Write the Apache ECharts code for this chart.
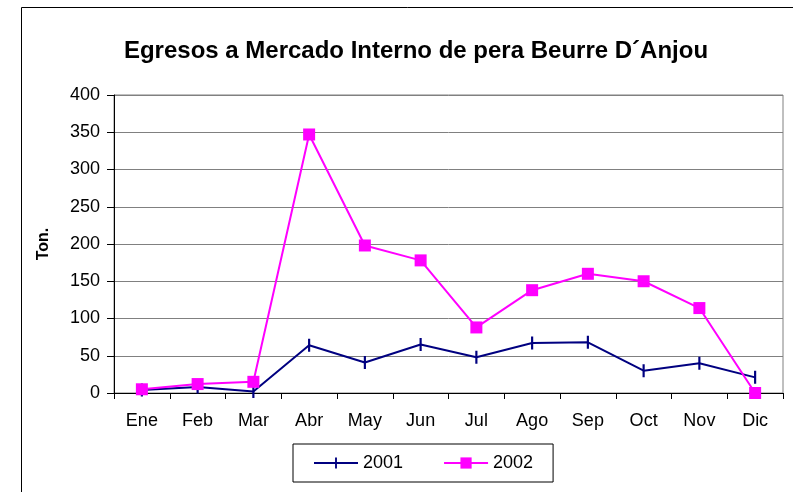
<!DOCTYPE html>
<html lang="es">
<head>
  <meta http-equiv="Content-Type" content="text/html; charset=UTF-8">
  <title>Egresos a Mercado Interno</title>
  <style>
    html, body { margin: 0; padding: 0; background: #fff; }
    #myChart { width: 793px; height: 492px; }
  </style>
</head>
<body>
  <div id="myChart"></div>
  <script src="https://cdn.jsdelivr.net/npm/echarts@6/dist/echarts.min.js"></script>
  <script>
    const months = ['Ene', 'Feb', 'Mar', 'Abr', 'May', 'Jun', 'Jul', 'Ago', 'Sep', 'Oct', 'Nov', 'Dic'];
    const data2001 = [4, 8, 2, 64, 41, 65, 48, 67, 68, 30, 40, 21];
    const data2002 = [5, 12, 15, 347, 198, 178, 88, 138, 160, 150, 114, 0];
    const yTicks = [0, 50, 100, 150, 200, 250, 300, 350, 400];

    const myChart = echarts.init(document.getElementById('myChart'));
    const font = 'Liberation Sans, Arial, sans-serif';
    // vertical dash marker, padded to a square box so the legend keeps its shape
    const dash = 'path://M0,0h0.01v0.01h-0.01z M5,0h2v12h-2z M11.99,11.99h0.01v0.01h-0.01z';
    const option = {
      backgroundColor: '#fff',
      animation: false,
      textStyle: { fontFamily: font, color: '#000' },
      graphic: [{
        type: 'rect',
        shape: { x: 21.5, y: 7.5, width: 800, height: 500 },
        style: { fill: 'none', stroke: '#000', lineWidth: 1 },
        silent: true
      }],
      title: {
        text: 'Egresos a Mercado Interno de pera Beurre D´Anjou',
        left: 411,
        top: 34,
        textAlign: 'center',
        textStyle: { fontFamily: font, fontSize: 24, fontWeight: 'bold', color: '#000' }
      },
      legend: {
        left: 293,
        top: 444,
        itemWidth: 44,
        itemHeight: 14,
        itemGap: 40,
        padding: [10, 20, 10, 20],
        borderColor: '#000',
        borderWidth: 1,
        textStyle: { fontFamily: font, fontSize: 18, color: '#000' },
        data: ['2001', '2002']
      },
      grid: {
        left: 114,
        right: 10,
        top: 95,
        bottom: 99,
        show: true,
        borderColor: '#808080',
        borderWidth: 1
      },
      xAxis: {
        type: 'category',
        data: months,
        boundaryGap: true,
        axisLine: { lineStyle: { color: '#000', width: 1 } },
        axisTick: { show: true, length: 6, lineStyle: { color: '#000' } },
        axisLabel: { margin: 19, fontSize: 18, color: '#000', fontFamily: font }
      },
      yAxis: {
        type: 'value',
        min: yTicks[0],
        max: yTicks[yTicks.length - 1],
        interval: 50,
        name: 'Ton.',
        nameLocation: 'middle',
        nameRotate: 90,
        nameGap: 62,
        nameTextStyle: { fontFamily: font, fontSize: 16, fontWeight: 'bold', color: '#000' },
        axisLine: { show: true, lineStyle: { color: '#000', width: 1 } },
        axisTick: { show: true, length: 7, lineStyle: { color: '#000' } },
        axisLabel: { margin: 14, fontSize: 18, color: '#000', fontFamily: font },
        splitLine: { lineStyle: { color: '#808080', width: 1 } }
      },
      series: [{
        name: '2001',
        type: 'line',
        data: data2001,
        symbol: dash,
        symbolSize: 13,
        showAllSymbol: true,
        lineStyle: { color: '#000080', width: 2 },
        itemStyle: { color: '#000080' },
        z: 3
      }, {
        name: '2002',
        type: 'line',
        data: data2002,
        symbol: 'rect',
        symbolSize: 12,
        showAllSymbol: true,
        lineStyle: { color: '#FF00FF', width: 2 },
        itemStyle: { color: '#FF00FF' },
        z: 4
      }]
    };
    myChart.setOption(option);
  </script>
</body>
</html>
